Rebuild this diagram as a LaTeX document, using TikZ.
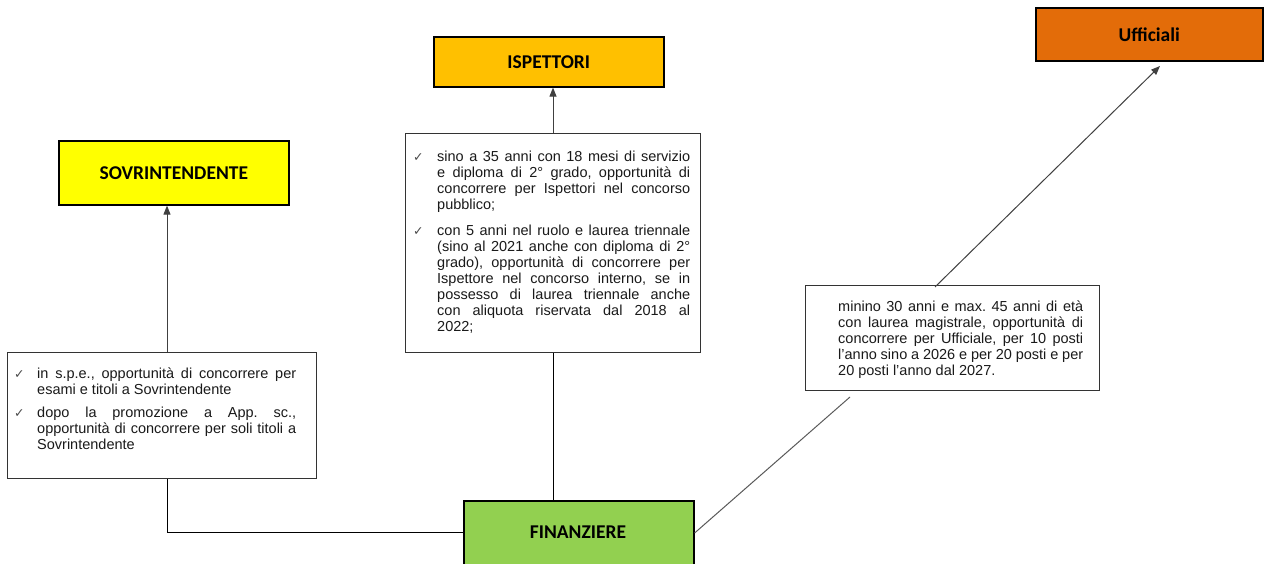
\documentclass[tikz,border=0pt]{standalone}
\usepackage{fontspec}
\setmainfont{Liberation Sans}
\newfontfamily\titlefont{Carlito}
\newfontfamily\symfont{DejaVu Sans}
\usetikzlibrary{arrows.meta}
\definecolor{cyel}{HTML}{FFFF00}
\definecolor{cgold}{HTML}{FFC000}
\definecolor{corange}{HTML}{E36C09}
\definecolor{cgreen}{HTML}{92D050}
\definecolor{ctxt}{HTML}{1A1A1A}
\frenchspacing
\hyphenpenalty=10000\relax
\tolerance=10000\relax
\hbadness=10000\relax
\newcommand{\chkitem}[2]{\par\hangindent=#1\hangafter=1\noindent\makebox[#1][l]{\symfont\fontsize{12.5}{12}\selectfont\color{black!70}✓}#2\par}
\tikzset{
  titlebox/.style={draw=black, line width=1.6pt, inner sep=0pt, font=\titlefont\bfseries\fontsize{19.5}{22}\selectfont, text=black},
  textbox/.style={draw=black!80, line width=0.9pt, fill=white, inner sep=0pt},
  bodytext/.style={inner sep=0pt, anchor=north west, align=justify, text=ctxt, font=\fontsize{14.5}{16}\selectfont},
  conn/.style={draw=black, line width=1pt},
  arr/.style={draw=black!75, line width=1pt, -{Triangle[width=7pt,length=9pt]}}
}
\begin{document}
\begin{tikzpicture}[x=1pt,y=-1pt]
\useasboundingbox (0,0) rectangle (1264,563);
% title boxes
\node[titlebox, fill=cyel, minimum width=230pt, minimum height=64pt, anchor=north west] (sov) at (58,140) {SOVRINTENDENTE};
\node[titlebox, fill=cgold, minimum width=230pt, minimum height=50pt, anchor=north west] (isp) at (433,36) {ISPETTORI};
\node[titlebox, fill=corange, minimum width=227pt, minimum height=53pt, anchor=north west] (uff) at (1035,7) {Ufficiali};
\node[titlebox, fill=cgreen, minimum width=230pt, minimum height=66pt, anchor=north west] (fin) at (463,500) {};
\node[font=\titlefont\bfseries\fontsize{19.5}{22}\selectfont] (fintxt) at (578,532) {FINANZIERE};
% connector anchor points
\coordinate (sovx) at (167,0);
\coordinate (ispx) at (553,0);
% connectors behind text boxes
\draw[conn] (fin.west |- fintxt) -| (sovx |- 0,478);
\draw[conn] (fin.north -| ispx) -- (ispx |- 0,352);
\coordinate (rlow) at (850,397);
\draw[conn, draw=black!65] (fin.east |- 0,533) -- (rlow);
% text boxes
\node[textbox, minimum width=309pt, minimum height=126pt, anchor=north west] (lbox) at (7,352) {};
\node[textbox, minimum width=295pt, minimum height=219pt, anchor=north west] (mbox) at (405,133) {};
\node[textbox, minimum width=294pt, minimum height=105pt, anchor=north west] (rbox) at (805,285) {};
% arrows
\draw[arr] (lbox.north -| sovx) -- (sov.south -| sovx);
\draw[arr] (mbox.north -| ispx) -- (isp.south -| ispx);
\draw[arr] (935,287) -- (1160,66);
% texts
\node[bodytext, text width=282pt] (ltxt) at (14,362) {%
\chkitem{23pt}{in s.p.e., opportunità di concorrere per\linebreak esami e titoli a Sovrintendente}\vspace{7pt}
\chkitem{23pt}{dopo la promozione a App. sc.,\linebreak opportunità di concorrere per soli titoli a\linebreak Sovrintendente}};
\node[bodytext, text width=277pt] (mtxt) at (413,145.5) {%
\chkitem{24pt}{sino a 35 anni con 18 mesi di servizio\linebreak e diploma di 2° grado, opportunità di\linebreak concorrere per Ispettori nel concorso\linebreak pubblico;}\vspace{10pt}
\chkitem{24pt}{con 5 anni nel ruolo e laurea triennale\linebreak (sino al 2021 anche con diploma di 2°\linebreak grado), opportunità di concorrere per\linebreak Ispettore nel concorso interno, se in\linebreak possesso di laurea triennale anche\linebreak con aliquota riservata dal 2018 al\linebreak 2022;}};
\node[bodytext, text width=245pt] (rtxt) at (838,300.5) {%
minino 30 anni e max. 45 anni di età\linebreak con laurea magistrale, opportunità di\linebreak concorrere per Ufficiale, per 10 posti\linebreak l’anno sino a 2026 e per 20 posti e per\linebreak 20 posti l’anno dal 2027.};
\end{tikzpicture}
\end{document}
